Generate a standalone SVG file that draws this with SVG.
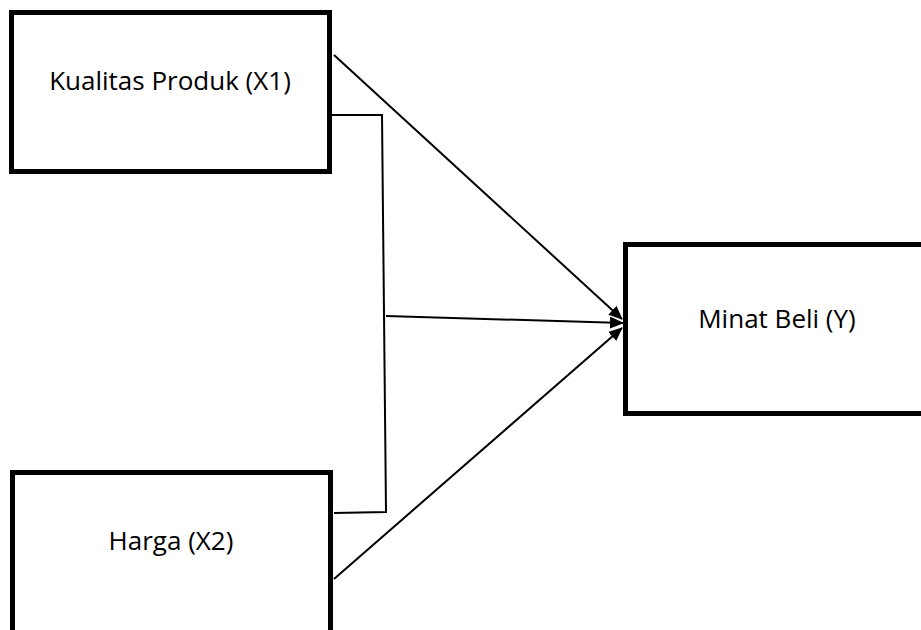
<svg xmlns="http://www.w3.org/2000/svg" width="921" height="630" viewBox="0 0 921 630">
<style>
.box{fill:#fff;stroke:#000;stroke-width:5}
.lbl{font-family:"Open Sans","Liberation Sans",sans-serif;font-size:26px;fill:#000;text-anchor:middle}
.ln{fill:none;stroke:#000;stroke-width:2}
.ar{fill:none;stroke:#000;stroke-width:2;marker-end:url(#ah)}
</style>
<defs>
<marker id="ah" markerWidth="7" markerHeight="6" refX="6.5" refY="3" orient="auto" markerUnits="strokeWidth">
<path d="M0,0 L7,3 L0,6 Z" fill="#000"/>
</marker>
</defs>
<rect width="921" height="630" fill="#fff"/>
<g id="connectors">
<line class="ar" x1="334" y1="55" x2="622" y2="319"/>
<polyline class="ln" points="331,115 382,115 386,512 334,513"/>
<line class="ar" x1="386" y1="316" x2="623" y2="323"/>
<line class="ar" x1="334" y1="579" x2="622" y2="328"/>
</g>
<g id="node-x1">
<rect class="box" x="11.5" y="12.5" width="318" height="159"/>
<text class="lbl" x="170" y="90">Kualitas Produk (X1)</text>
</g>
<g id="node-y">
<rect class="box" x="625.5" y="244.5" width="320" height="169"/>
<text class="lbl" x="777" y="328">Minat Beli (Y)</text>
</g>
<g id="node-x2">
<rect class="box" x="12.5" y="472.5" width="318" height="170"/>
<text class="lbl" x="171" y="550">Harga (X2)</text>
</g>
</svg>
